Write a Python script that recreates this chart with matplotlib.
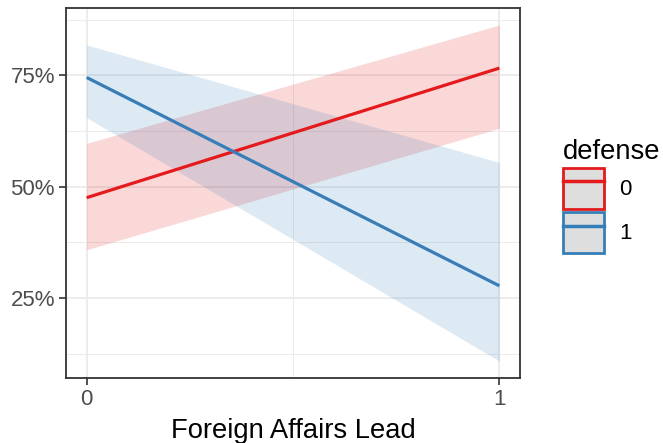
import matplotlib
matplotlib.use("Agg")
import matplotlib.pyplot as plt
import numpy as np
from matplotlib.patches import Patch
from matplotlib.lines import Line2D
from matplotlib.legend_handler import HandlerTuple
from matplotlib.ticker import FuncFormatter, FixedLocator

plt.rcParams['font.family'] = ['Liberation Sans', 'DejaVu Sans']

x = [0, 1]
groups = ["0", "1"]
fit = {"0": [0.475, 0.766], "1": [0.745, 0.277]}
lower = {"0": [0.358, 0.631], "1": [0.655, 0.108]}
upper = {"0": [0.597, 0.863], "1": [0.818, 0.554]}
colors = {"0": "#E41A1C", "1": "#377EB8"}

fig = plt.figure(figsize=(6.63, 4.43), dpi=100)
ax = fig.add_axes([66/663, 1-378/443, (520-66)/663, (378-8)/443])

for g in groups:
    ax.fill_between(x, lower[g], upper[g], color=colors[g], alpha=0.17, lw=0)
for g in groups:
    ax.plot(x, fit[g], color=colors[g], lw=2.3, solid_capstyle='butt')

ax.set_xlim(-0.05, 1.05)
ax.set_ylim(0.07, 0.901)
ax.set_xticks([0, 1])
ax.set_yticks([0.25, 0.5, 0.75])
ax.yaxis.set_minor_locator(FixedLocator([0.125, 0.375, 0.625, 0.875]))
ax.xaxis.set_minor_locator(FixedLocator([0.5]))
ax.yaxis.set_major_formatter(FuncFormatter(lambda v, p: f"{v*100:.0f}%"))
ax.set_axisbelow(True)
ax.grid(True, which='major', color='#ebebeb', lw=1.3)
ax.grid(True, which='minor', color='#ebebeb', lw=0.7)
ax.tick_params(which='minor', length=0)
ax.tick_params(which='major', length=5, width=1.2, color='#333333', labelcolor='#4d4d4d', labelsize=16, pad=3)
for s in ax.spines.values():
    s.set_color('#333333')
    s.set_linewidth(1.3)
ax.set_xlabel("Foreign Affairs Lead", fontsize=19.7, color='black', labelpad=6)

handles = [(Patch(facecolor='#dedede', edgecolor=colors[g], lw=2),
            Line2D([], [], color=colors[g], lw=2.5)) for g in groups]
leg = fig.legend(handles, groups, title="defense", loc='upper left',
                 bbox_to_anchor=(547/663, 1-123/443), frameon=False,
                 handler_map={tuple: HandlerTuple(ndivide=1, pad=0)},
                 handlelength=1.85, handleheight=2.45, fontsize=16,
                 title_fontsize=19.7, labelspacing=0.15, handletextpad=0.7,
                 borderpad=0.2, alignment='left')

fig.savefig("out.png", dpi=100)
